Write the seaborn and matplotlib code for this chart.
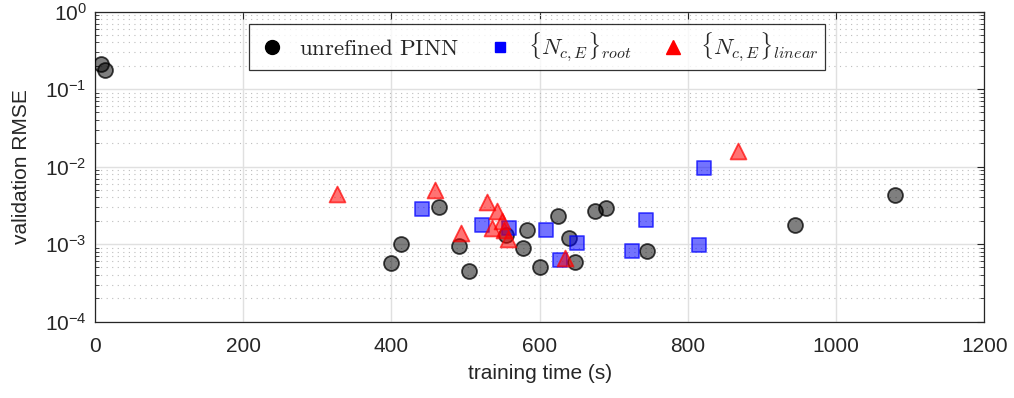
import numpy as np
import pandas as pd
import matplotlib
matplotlib.use("Agg")
import matplotlib.pyplot as plt
import seaborn as sns
from matplotlib.lines import Line2D
from matplotlib.ticker import LogLocator, NullFormatter

# training time (s) and validation RMSE for each configuration
unrefined_time = [8, 14, 400, 413, 464, 491, 505, 554, 583, 577, 601, 625, 639, 648, 675, 690, 745, 945, 1080]
unrefined_rmse = [0.21, 0.175, 5.7e-4, 9.9e-4, 3.0e-3, 9.5e-4, 4.5e-4, 1.3e-3, 1.5e-3, 8.8e-4, 5.1e-4,
                  2.3e-3, 1.2e-3, 5.9e-4, 2.7e-3, 2.95e-3, 8.2e-4, 1.75e-3, 4.3e-3]

root_time = [441, 522, 558, 608, 651, 627, 724, 744, 822, 815]
root_rmse = [2.8e-3, 1.77e-3, 1.6e-3, 1.5e-3, 1.03e-3, 6.2e-4, 8.1e-4, 2.05e-3, 9.7e-3, 9.8e-4]

linear_time = [326, 459, 494, 529, 542, 536, 549, 552, 557, 634, 868]
linear_rmse = [4.4e-3, 5.0e-3, 1.4e-3, 3.5e-3, 2.7e-3, 1.6e-3, 2.0e-3, 1.5e-3, 1.17e-3, 6.6e-4, 1.6e-2]

legend_labels = [r"$\mathrm{unrefined\ PINN}$", r"$\{N_{c,E}\}_{root}$", r"$\{N_{c,E}\}_{linear}$"]

sns.set_theme(style="white")
plt.rcParams["font.family"] = ["Liberation Sans", "DejaVu Sans"]
plt.rcParams["mathtext.fontset"] = "cm"

fig = plt.figure(figsize=(10.14, 3.98), dpi=100)
ax = fig.add_axes([0.0937, 0.192, 0.877, 0.779])

df_u = pd.DataFrame({"t": unrefined_time, "rmse": unrefined_rmse})
df_r = pd.DataFrame({"t": root_time, "rmse": root_rmse})
df_l = pd.DataFrame({"t": linear_time, "rmse": linear_rmse})

sns.scatterplot(data=df_u, x="t", y="rmse", ax=ax, marker="o", s=115,
                color=(0, 0, 0, 0.5), edgecolor=(0, 0, 0, 0.75), linewidth=1.3, zorder=3)
sns.scatterplot(data=df_r, x="t", y="rmse", ax=ax, marker="s", s=100,
                color=(0, 0, 1, 0.55), edgecolor=(0, 0, 1, 0.65), linewidth=1.3, zorder=3)
sns.scatterplot(data=df_l, x="t", y="rmse", ax=ax, marker="^", s=130,
                color=(1, 0, 0, 0.55), edgecolor=(1, 0, 0, 0.7), linewidth=1.3, zorder=3)

ax.set_yscale("log")
ax.set_xlim(0, 1200)
ax.set_ylim(1e-4, 1)
ax.set_xticks(np.arange(0, 1201, 200))
ax.set_yticks([1e-4, 1e-3, 1e-2, 1e-1, 1])
ax.yaxis.set_minor_locator(LogLocator(base=10, subs=np.arange(2, 10), numticks=20))
ax.yaxis.set_minor_formatter(NullFormatter())

ax.grid(True, which="major", color="#e0e0e0", linewidth=1.0, linestyle="-")
ax.grid(True, which="minor", axis="y", color="#bdbdbd", linewidth=0.8, linestyle=(0, (1, 4)))
ax.set_axisbelow(True)

for sp in ax.spines.values():
    sp.set_color("#262626")
    sp.set_linewidth(0.9)

ax.tick_params(axis="both", which="major", direction="in", length=5, width=0.8,
               top=True, right=True, labelsize=15, colors="#262626")
ax.tick_params(axis="x", which="major", pad=11)
ax.tick_params(axis="y", which="major", pad=6)
ax.tick_params(axis="y", which="minor", direction="in", length=3, width=0.6,
               left=True, right=True)

ax.set_xlabel("training time (s)", fontsize=15, color="#262626", labelpad=6)
ax.set_ylabel("validation RMSE", fontsize=15, color="#262626", labelpad=10)

handles = [
    Line2D([], [], marker="o", linestyle="none", markersize=10, color="black"),
    Line2D([], [], marker="s", linestyle="none", markersize=7.5, color="blue"),
    Line2D([], [], marker="^", linestyle="none", markersize=10, color="red"),
]
leg = ax.legend(handles, legend_labels, loc="upper center", bbox_to_anchor=(0.497, 1.0),
                borderaxespad=0.55, ncol=3, fontsize=16.5, frameon=True, fancybox=False,
                edgecolor="black", handletextpad=0.5, columnspacing=1.1, borderpad=0.28,
                handlelength=1.4)
leg.get_frame().set_linewidth(0.9)

fig.savefig("out.png", dpi=100, facecolor="white")
